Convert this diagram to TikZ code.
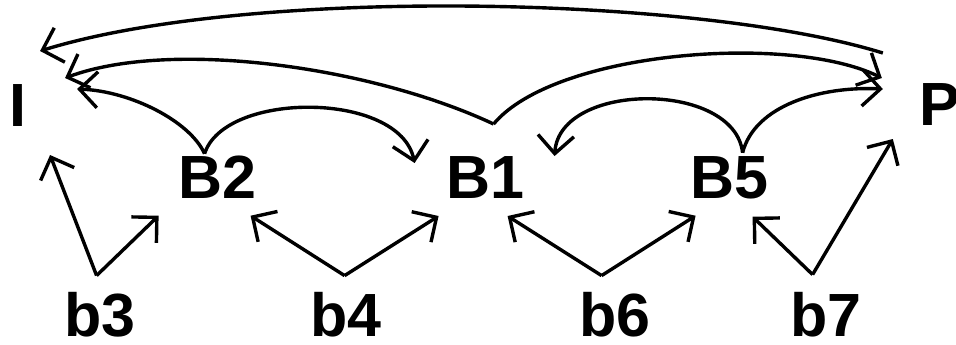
\documentclass[tikz,border=0pt]{standalone}
\usepackage{fontspec}
\setmainfont{Liberation Sans}
\usetikzlibrary{arrows.meta}
\tikzset{
  lbl/.style={inner sep=0pt, font=\bfseries\fontsize{61}{61}\selectfont, anchor=south west},
  conn/.style={line width=3.4pt, -{Straight Barb[length=18pt,width=36pt]}}
}
\begin{document}
\begin{tikzpicture}[x=1pt,y=-1pt]
\useasboundingbox[fill=white] (0,0) rectangle (956,345);
% labels (anchor = baseline left of the box)
\node[lbl] (I)  at (9,127)   {I};
\node[lbl] (P)  at (919,126) {P};
\node[lbl] (B2) at (178,199) {B2};
\node[lbl] (B1) at (446,199) {B1};
\node[lbl] (B5) at (690,199) {B5};
\node[lbl] (b3) at (64,337)  {b3};
\node[lbl] (b4) at (310,337) {b4};
\node[lbl] (b6) at (579,337) {b6};
\node[lbl] (b7) at (790,337) {b7};
% upper arcs
\draw[conn] ([shift={(-56.7,-51.8)}]P.center) .. controls +(-183,-57) and +(210,-65) .. ([shift={(22.4,-54.8)}]I.center);
\draw[conn] ([shift={(8.4,-53.8)}]B1.center) .. controls +(-124,-58) and +(105,-39) .. ([shift={(47.4,-27.8)}]I.center);
\draw[conn] ([shift={(8.4,-53.8)}]B1.center) .. controls +(61,-73) and +(-92,-45) .. ([shift={(-57.7,-26.8)}]P.center);
\draw[conn] ([shift={(-12.6,-23.8)}]B2.center) .. controls +(-15,-33) and +(53,2) .. ([shift={(59.4,-16.8)}]I.center);
\draw[conn] ([shift={(-12.6,-23.8)}]B2.center) .. controls +(20,-63) and +(-15,-72) .. ([shift={(-70.6,-14.8)}]B1.center);
\draw[conn] ([shift={(13.4,-24.8)}]B5.center) .. controls +(-8,-72) and +(5,-75) .. ([shift={(69.4,-21.8)}]B1.center);
\draw[conn] ([shift={(13.4,-24.8)}]B5.center) .. controls +(12,-47) and +(-63,-3) .. ([shift={(-56.7,-15.8)}]P.center);
% lower straight arrows
\draw[conn] ([shift={(-3.2,-38.8)}]b3.center) -- ([shift={(32.4,49.2)}]I.center);
\draw[conn] ([shift={(-3.2,-38.8)}]b3.center) -- ([shift={(-58.6,38.2)}]B2.center);
\draw[conn] ([shift={(-1.2,-38.8)}]b4.center) -- ([shift={(33.4,38.2)}]B2.center);
\draw[conn] ([shift={(-1.2,-38.8)}]b4.center) -- ([shift={(-46.6,38.2)}]B1.center);
\draw[conn] ([shift={(-13.2,-38.8)}]b6.center) -- ([shift={(22.4,38.2)}]B1.center);
\draw[conn] ([shift={(-13.2,-38.8)}]b6.center) -- ([shift={(-33.6,38.2)}]B5.center);
\draw[conn] ([shift={(-13.2,-39.8)}]b7.center) -- ([shift={(23.4,39.2)}]B5.center);
\draw[conn] ([shift={(-13.2,-39.8)}]b7.center) -- ([shift={(-46.7,34.2)}]P.center);
\end{tikzpicture}
\end{document}
